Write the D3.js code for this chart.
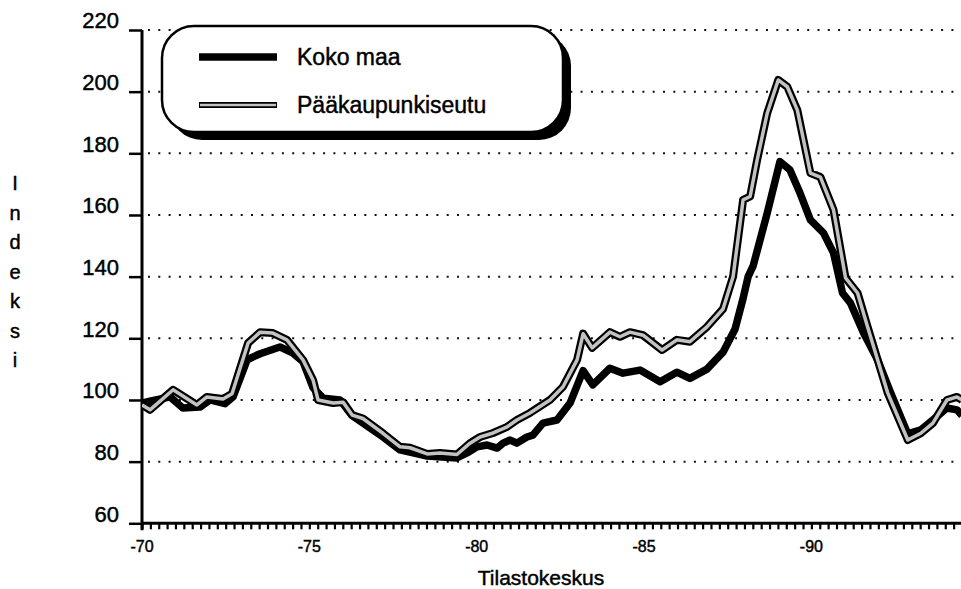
<!DOCTYPE html>
<html>
<head>
<meta charset="utf-8">
<script src="https://cdn.jsdelivr.net/npm/d3@7"></script>
<style>
  body { margin: 0; background: #fff; }
  text { font-family: "Liberation Sans", Arial, sans-serif; fill: #000; stroke: #000; stroke-width: 0.45px; }
</style>
</head>
<body>
<div class="chart"></div>
<script>
// data (years as decimals, index values)
var kokoYears = [1970.00, 1970.24, 1970.84, 1971.22, 1971.73, 1972.03, 1972.48, 1972.72, 1973.14, 1973.32,
  1973.53, 1974.12, 1974.51, 1974.81, 1975.11, 1975.41, 1975.92, 1976.27, 1977.20, 1977.71,
  1978.52, 1979.41, 1979.71, 1980.01, 1980.31, 1980.61, 1980.79, 1981.00, 1981.20, 1981.50,
  1981.68, 1981.98, 1982.40, 1982.79, 1983.18, 1983.47, 1983.98, 1984.37, 1984.88, 1985.48,
  1985.98, 1986.37, 1986.88, 1987.36, 1987.72, 1987.96, 1988.11, 1988.26, 1988.68, 1989.06,
  1989.36, 1989.66, 1989.97, 1990.36, 1990.66, 1990.93, 1991.17, 1991.56, 1991.98, 1992.37,
  1992.88, 1993.27, 1993.63, 1994.05, 1994.35, 1994.50];
var kokoValues = [99, 99.6, 101, 97.4, 97.7, 100, 98.8, 101, 113, 114,
  115, 117.2, 115.2, 112.4, 104, 100.6, 100, 95, 88, 83.8,
  81.8, 81.2, 82.8, 84.8, 85.4, 84.4, 86, 87, 86, 88,
  88.6, 92.5, 93.5, 99, 109.5, 104.9, 110.3, 108.7, 109.7, 105.9,
  109, 107, 110, 115.5, 123, 133, 140, 143.5, 160.6, 177.3,
  174.6, 167.1, 158.4, 154.2, 147.7, 134.7, 131.4, 121.7, 113, 102.3,
  89, 90.3, 93.5, 97.4, 96.8, 95];

var pksYears = [1970.00, 1970.24, 1970.93, 1971.64, 1971.94, 1972.42, 1972.69, 1973.17, 1973.53, 1973.91,
  1974.33, 1974.81, 1975.11, 1975.26, 1975.71, 1976.01, 1976.28, 1976.60, 1977.20, 1977.71,
  1978.01, 1978.52, 1978.90, 1979.41, 1979.80, 1980.10, 1980.49, 1980.91, 1981.20, 1981.59,
  1982.19, 1982.58, 1983.00, 1983.18, 1983.45, 1983.98, 1984.28, 1984.58, 1984.97, 1985.54,
  1985.98, 1986.37, 1986.88, 1987.36, 1987.66, 1987.96, 1988.17, 1988.38, 1988.68, 1989.01,
  1989.28, 1989.58, 1989.97, 1990.27, 1990.66, 1991.02, 1991.38, 1991.68, 1991.98, 1992.28,
  1992.88, 1993.27, 1993.63, 1994.05, 1994.35, 1994.50];
var pksValues = [98.4, 96.8, 103.3, 98.4, 101, 100.3, 102, 118.5, 122, 121.7,
  119.5, 113, 106.5, 100, 99, 99.3, 95.1, 94, 89.2, 84.8,
  84.5, 82.5, 82.8, 82.3, 86, 88, 89.3, 91.3, 93.5, 95.8,
  100, 104.3, 113, 121.5, 116.9, 122, 120.5, 122, 121, 116.2,
  119.5, 118.9, 123.7, 129.5, 140, 164.9, 166, 177.9, 193, 203.8,
  201.6, 194, 173.6, 172.3, 161.7, 139.6, 134.7, 123.7, 113, 102.3,
  87, 89.2, 92.5, 100, 101, 100];

var yTicks = [60, 80, 100, 120, 140, 160, 180, 200, 220];
var xLabelYears = [1970, 1975, 1980, 1985, 1990];
var xLabels = ["-70", "-75", "-80", "-85", "-90"];
var seriesNames = ["Koko maa", "Pääkaupunkiseutu"];
var yTitle = "Indeksi";
var source = "Tilastokeskus";

var width = 961, height = 589;

var svg = d3.select(".chart")
  .append("svg")
  .attr("width", width)
  .attr("height", height);

var x = d3.scaleLinear().domain([1970, 1994.5]).range([142, 962]);
var y = d3.scaleLinear().domain([60, 220]).range([523.3, 30]);

// dotted grid lines
svg.selectAll(".grid")
  .data(yTicks.slice(1))
  .enter().append("line")
  .attr("class", "grid")
  .attr("x1", x(1970) + 6)
  .attr("x2", width)
  .attr("y1", function(d){ return y(d) })
  .attr("y2", function(d){ return y(d) })
  .style("stroke", "#111")
  .style("stroke-width", 2)
  .style("stroke-dasharray", "2,8.3");

// y axis
var yAxis = d3.axisLeft(y).tickValues(yTicks).tickSize(13).tickSizeOuter(0);
var yg = svg.append("g")
  .attr("transform", "translate(" + x(1970) + ",0)")
  .call(yAxis);
yg.select(".domain").remove();
yg.selectAll(".tick line").style("stroke", "#000").style("stroke-width", 2.5);
yg.selectAll(".tick text")
  .attr("x", -23)
  .attr("dy", "-0.1em")
  .style("font-size", "22px")
  .style("font-family", "'Liberation Sans', Arial, sans-serif");

svg.append("line")
  .attr("x1", x(1970)).attr("x2", x(1970))
  .attr("y1", y(220)).attr("y2", y(60) + 7)
  .style("stroke", "#000").style("stroke-width", 3);

// x axis: quarterly ticks, labels every 5 years
var quarters = d3.range(0, 98).map(function(i){ return 1970 + i / 4 });
var xAxis = d3.axisBottom(x).tickValues(quarters).tickSize(6).tickFormat("").tickSizeOuter(0);
var xg = svg.append("g")
  .attr("transform", "translate(0," + y(60) + ")")
  .call(xAxis);
xg.select(".domain").remove();
xg.selectAll(".tick line").style("stroke", "#000").style("stroke-width", 2.2);

svg.append("line")
  .attr("x1", x(1970)).attr("x2", width)
  .attr("y1", y(60)).attr("y2", y(60))
  .style("stroke", "#000").style("stroke-width", 3);

svg.selectAll(".xlabel")
  .data(xLabelYears)
  .enter().append("text")
  .attr("class", "xlabel")
  .attr("x", function(d){ return x(d) })
  .attr("y", 552)
  .attr("text-anchor", "middle")
  .style("font-size", "16px")
  .text(function(d, i){ return xLabels[i] });

// vertical stacked y title
svg.selectAll(".ytitle")
  .data(yTitle.split(""))
  .enter().append("text")
  .attr("class", "ytitle")
  .attr("x", 15)
  .attr("y", function(d, i){ return 190 + i * 29.5 })
  .attr("text-anchor", "middle")
  .style("font-size", "20px")
  .text(function(d){ return d });

svg.append("text")
  .attr("x", 541)
  .attr("y", 585)
  .attr("text-anchor", "middle")
  .style("font-size", "21px")
  .text(source);

// lines
var clip = svg.append("clipPath").attr("id", "plot")
  .append("rect")
  .attr("x", x(1970)).attr("y", 0)
  .attr("width", width - x(1970)).attr("height", y(60));

var line = d3.line()
  .x(function(d){ return x(d[0]) })
  .y(function(d){ return y(d[1]) });

var koko = d3.zip(kokoYears, kokoValues);
var pks = d3.zip(pksYears, pksValues);

var lines = svg.append("g").attr("clip-path", "url(#plot)");

lines.append("path")
  .attr("d", line(koko))
  .style("fill", "none")
  .style("stroke", "#000")
  .style("stroke-width", 7.5)
  .style("stroke-linejoin", "round");

lines.append("path")
  .attr("d", line(pks))
  .style("fill", "none")
  .style("stroke", "#000")
  .style("stroke-width", 8)
  .style("stroke-linejoin", "round");

lines.append("path")
  .attr("d", line(pks))
  .style("fill", "none")
  .style("stroke", "#c2c2c2")
  .style("stroke-width", 3.5)
  .style("stroke-linejoin", "round");

// legend box with shadow
var legend = svg.append("g");

legend.append("rect")
  .attr("x", 170).attr("y", 34)
  .attr("width", 401).attr("height", 106)
  .attr("rx", 32)
  .style("fill", "#000");

legend.append("rect")
  .attr("x", 162).attr("y", 26)
  .attr("width", 401).attr("height", 106)
  .attr("rx", 32)
  .style("fill", "#fff")
  .style("stroke", "#000")
  .style("stroke-width", 2.5);

var legendY = [57, 105];

legend.append("line")
  .attr("x1", 199).attr("x2", 277)
  .attr("y1", legendY[0]).attr("y2", legendY[0])
  .style("stroke", "#000").style("stroke-width", 7.5);

legend.append("line")
  .attr("x1", 199).attr("x2", 277)
  .attr("y1", legendY[1]).attr("y2", legendY[1])
  .style("stroke", "#000").style("stroke-width", 6);

legend.append("line")
  .attr("x1", 200).attr("x2", 276)
  .attr("y1", legendY[1]).attr("y2", legendY[1])
  .style("stroke", "#c2c2c2").style("stroke-width", 2.5);

legend.selectAll(".ltext")
  .data(seriesNames)
  .enter().append("text")
  .attr("class", "ltext")
  .attr("x", 297)
  .attr("y", function(d, i){ return legendY[i] + 8 })
  .style("font-size", "23px")
  .text(function(d){ return d });
</script>
</body>
</html>
